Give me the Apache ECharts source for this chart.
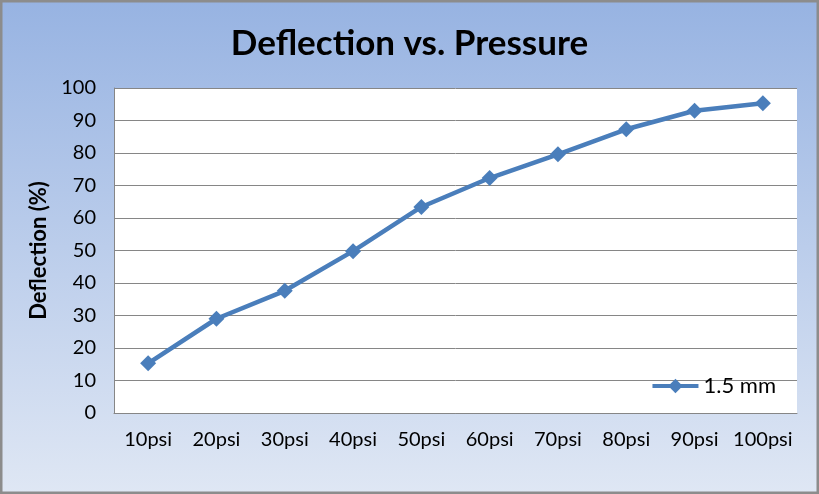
<!DOCTYPE html>
<html><head><meta charset="utf-8">
<script src="https://cdn.jsdelivr.net/npm/echarts@6/dist/echarts.min.js"></script>
<style>html,body{margin:0;padding:0;}#c{width:819px;height:494px;}</style>
</head><body><div id="c"></div>
<script>
const categories = ['10psi','20psi','30psi','40psi','50psi','60psi','70psi','80psi','90psi','100psi'];
const deflection = [15.3, 29.0, 37.6, 49.8, 63.4, 72.3, 79.6, 87.3, 93.0, 95.3];
const seriesName = '1.5 mm';
const titleText = 'Deflection vs. Pressure';
const yAxisName = 'Deflection (%)';

const chart = echarts.init(document.getElementById('c'), null, {renderer:'canvas'});
const font = 'Lato, "Open Sans", sans-serif';
chart.setOption({
  backgroundColor: {type:'linear', x:0, y:0, x2:0, y2:1, colorStops:[
    {offset:0, color:'#97b3e2'}, {offset:1, color:'#dfe7f4'}]},
  animation:false,
  title:{text:titleText, left:'center', top:21,
    textStyle:{fontFamily:font, fontWeight:'bold', fontSize:35, color:'#000'}},
  grid:{left:114, top:88, right:22, bottom:81, show:true, backgroundColor:'#fff', borderWidth:0},
  legend:{right:38, bottom:92, itemWidth:46, itemHeight:18, itemGap:3,
    lineStyle:{width:4},
    textStyle:{fontFamily:font, fontSize:22, color:'#000'},
    data:[{name:seriesName}]},
  xAxis:{type:'category', data:categories, boundaryGap:true,
    axisLine:{show:true, lineStyle:{color:'#868686', width:1}},
    axisTick:{show:false},
    axisLabel:{fontFamily:font, fontSize:20, color:'#000', margin:17, interval:0}},
  yAxis:{type:'value', min:0, max:100, interval:10,
    name:yAxisName, nameLocation:'middle', nameGap:60,
    nameTextStyle:{fontFamily:font, fontWeight:'bold', fontSize:22, color:'#000'},
    axisLine:{show:true, lineStyle:{color:'#868686', width:1}},
    axisTick:{show:false},
    splitLine:{show:true, lineStyle:{color:'#868686', width:1}},
    axisLabel:{fontFamily:font, fontSize:20, color:'#000', margin:18}},
  series:[{name:seriesName, type:'line', data:deflection,
    symbol:'diamond', symbolSize:16,
    lineStyle:{color:'#4a7ebb', width:4.5},
    itemStyle:{color:'#4a7ebb'}}],
  graphic:[{type:'rect', shape:{x:1, y:1, width:817, height:492}, style:{fill:'none', stroke:'#8c8c8c', lineWidth:3}, z:100}]
});
</script></body></html>
